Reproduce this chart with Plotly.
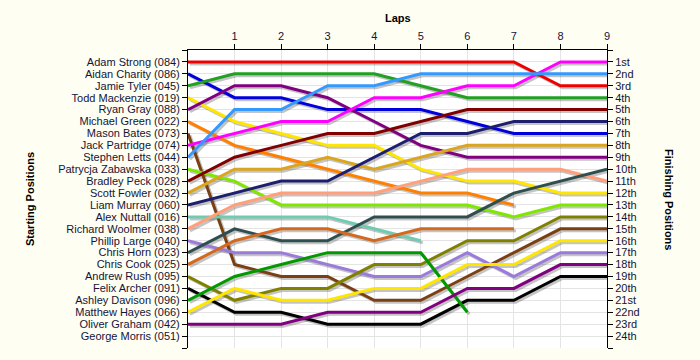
import plotly.graph_objects as go

laps = [0, 1, 2, 3, 4, 5, 6, 7, 8, 9]

drivers = [
    "Adam Strong (084)", "Aidan Charity (086)", "Jamie Tyler (045)", "Todd Mackenzie (019)",
    "Ryan Gray (088)", "Michael Green (022)", "Mason Bates (073)", "Jack Partridge (074)",
    "Stephen Letts (044)", "Patrycja Zabawska (033)", "Bradley Peck (028)", "Scott Fowler (032)",
    "Liam Murray (060)", "Alex Nuttall (016)", "Richard Woolmer (038)", "Phillip Large (040)",
    "Chris Horn (023)", "Chris Cook (025)", "Andrew Rush (095)", "Felix Archer (091)",
    "Ashley Davison (096)", "Matthew Hayes (066)", "Oliver Graham (042)", "George Morris (051)",
]

N = None
positions = [
    [1, 1, 1, 1, 1, 1, 1, 1, 3, 3],
    [2, 4, 4, 5, 5, 5, 6, 7, 7, 7],
    [3, 2, 2, 2, 2, 3, 4, 4, 4, 4],
    [4, 6, 7, 8, 8, 10, 11, 11, 12, 12],
    [5, 3, 3, 4, 6, 8, 9, 9, 9, 9],
    [6, 8, 9, 10, 11, 12, 12, 13, N, N],
    [7, 18, 19, 19, 21, 21, 19, 17, 15, 15],
    [8, 7, 6, 6, 4, 4, 3, 3, 1, 1],
    [9, 5, 5, 3, 3, 2, 2, 2, 2, 2],
    [10, 11, 13, 13, 13, 13, 13, 14, 13, 13],
    [11, 9, 8, 7, 7, 6, 5, 5, 5, 5],
    [12, 10, 10, 9, 10, 9, 8, 8, 8, 8],
    [13, 12, 11, 11, 9, 7, 7, 6, 6, 6],
    [14, 14, 14, 14, 15, 16, N, N, N, N],
    [15, 13, 12, 12, 12, 11, 10, 10, 10, 11],
    [16, 17, 17, 18, 19, 19, 17, 19, 17, 17],
    [17, 15, 16, 16, 14, 14, 14, 12, 11, 10],
    [18, 16, 15, 15, 16, 15, 15, 15, N, N],
    [19, 21, 20, 20, 18, 18, 16, 16, 14, 14],
    [20, 22, 22, 23, 23, 23, 21, 21, 19, 19],
    [21, 19, 18, 17, 17, 17, 22, N, N, N],
    [22, 20, 21, 21, 20, 20, 18, 18, 16, 16],
    [23, 23, 23, 22, 22, 22, 20, 20, 18, 18],
    [N, N, N, N, N, N, N, N, N, N],
]

colors = [
    "#EE0000", "#0000DD", "#22A022", "#FFE600", "#800080", "#FF8000", "#7B4012", "#FF00FF",
    "#3399FF", "#80E800", "#800000", "#DAA520", "#1E1E6E", "#70CCB0", "#FFA07A", "#9A7ADB",
    "#2F4F4F", "#D2691E", "#808000", "#000000", "#009900", "#FFE600", "#800080", "#888888",
]

finish_labels = ["1st", "2nd", "3rd", "4th", "5th", "6th", "7th", "8th", "9th", "10th",
                 "11th", "12th", "13th", "14th", "15th", "16th", "17th", "18th", "19th",
                 "20th", "21st", "22nd", "23rd", "24th"]
lap_ticks = [1, 2, 3, 4, 5, 6, 7, 8, 9]

# layout geometry
ML, MR, MT, MB = 188, 93, 50, 12
W, H = 700, 360
pw = W - ML - MR
ph = H - MT - MB
xmax = 9
ymax = 25
sx = 2 * xmax / pw   # 2px shadow offset in data units
sy = 2 * ymax / ph

fig = go.Figure()

# shadows on base axes (shifted)
for name, ys in zip(drivers, positions):
    fig.add_trace(go.Scatter(x=laps, y=ys, mode="lines", xaxis="x", yaxis="y",
                             line=dict(color="rgba(60,60,60,0.30)", width=3),
                             hoverinfo="skip", showlegend=False))
# main lines
for name, ys, c in zip(drivers, positions, colors):
    fig.add_trace(go.Scatter(x=laps, y=ys, mode="lines", xaxis="x2", yaxis="y2",
                             line=dict(color=c, width=3), name=name, showlegend=False))
# dummy trace for right axis
fig.add_trace(go.Scatter(x=[None], y=[None], xaxis="x2", yaxis="y3", showlegend=False))

tick_font = dict(family="Liberation Sans, Arial, sans-serif", size=11, color="#141438")
left_vals = list(range(0, 26))
left_text = [""] + drivers + [""]
right_text = [""] + finish_labels + [""]

fig.update_layout(
    width=W, height=H,
    margin=dict(l=ML, r=MR, t=MT, b=MB),
    paper_bgcolor="#FEFEF2",
    plot_bgcolor="#FFFFFF",
    showlegend=False,
    xaxis=dict(range=[0 - sx, xmax - sx], visible=False, showgrid=False),
    yaxis=dict(range=[ymax - sy, 0 - sy], visible=False, showgrid=False),
    xaxis2=dict(overlaying="x", side="top", range=[0, xmax], tickvals=lap_ticks,
                ticks="outside", ticklen=5, tickcolor="#000000", showline=True,
                linecolor="#000000", linewidth=1, showgrid=True, gridcolor="#E4E4E4",
                gridwidth=1, zeroline=False, tickfont=tick_font, anchor="y2"),
    yaxis2=dict(overlaying="y", side="left", range=[ymax, 0], tickvals=left_vals,
                ticktext=left_text, ticks="outside", ticklen=5, tickcolor="#000000",
                showline=True, linecolor="#000000", linewidth=1, showgrid=True,
                gridcolor="#E4E4E4", gridwidth=1, zeroline=False, tickfont=tick_font,
                anchor="x2"),
    yaxis3=dict(overlaying="y", side="right", range=[ymax, 0], tickvals=left_vals,
                ticktext=right_text, ticks="outside", ticklen=5, tickcolor="#000000",
                showline=True, linecolor="#000000", linewidth=1, showgrid=False,
                zeroline=False, tickfont=tick_font, anchor="x2"),
    annotations=[
        dict(text="<b>Laps</b>", xref="paper", yref="paper", x=0.5, y=1, yshift=32,
             showarrow=False, font=dict(family="Liberation Sans, Arial", size=11, color="#000000"),
             xanchor="center", yanchor="middle"),
        dict(text="<b>Starting Positions</b>", xref="paper", yref="paper", x=0, y=0.5,
             xshift=-158, textangle=-90, showarrow=False,
             font=dict(family="Liberation Sans, Arial", size=11, color="#000000"),
             xanchor="center", yanchor="middle"),
        dict(text="<b>Finishing Positions</b>", xref="paper", yref="paper", x=1, y=0.5,
             xshift=62, textangle=90, showarrow=False,
             font=dict(family="Liberation Sans, Arial", size=11, color="#000000"),
             xanchor="center", yanchor="middle"),
    ],
)

fig.write_html("out.html", config={"displayModeBar": False},
               post_script="document.body.style.margin='0';document.body.style.overflow='hidden';")
